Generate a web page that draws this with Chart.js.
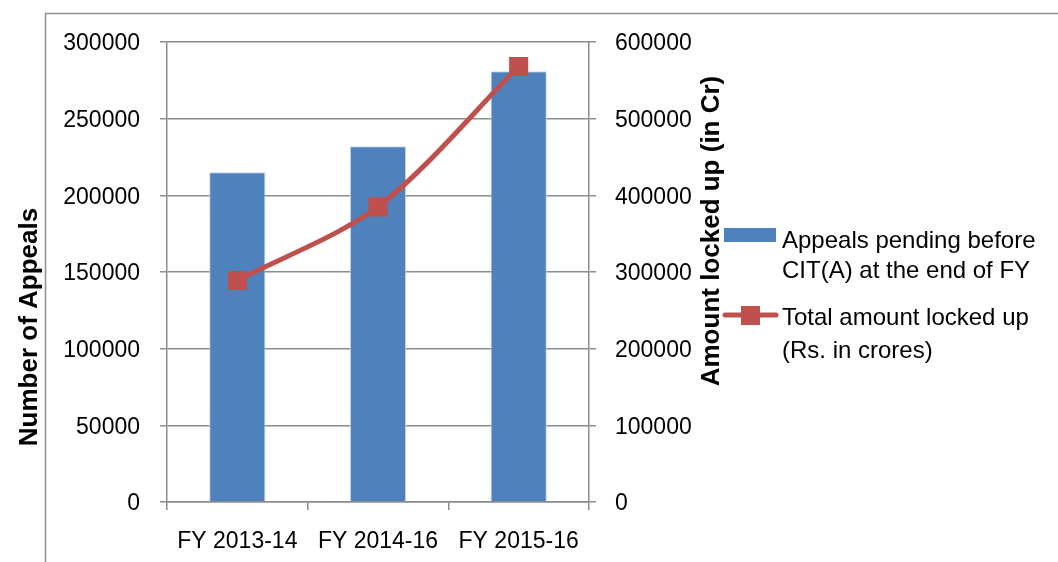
<!DOCTYPE html>
<html>
<head>
<meta charset="utf-8">
<script src="https://cdn.jsdelivr.net/npm/chart.js@4/dist/chart.umd.min.js"></script>
<style>
  html, body { margin: 0; padding: 0; background: #ffffff; }
  #wrap { position: relative; width: 1058px; height: 562px; }
</style>
</head>
<body>
<div id="wrap"><canvas id="c" width="1058" height="562"></canvas></div>
<script>
// ---- data ----
const categories = ["FY 2013-14", "FY 2014-16", "FY 2015-16"];
const appealsPending = [215000, 232000, 281000];
const amountLockedUp = [289000, 385000, 568000];
const leftTicks = [0, 50000, 100000, 150000, 200000, 250000, 300000];
const rightTicks = [0, 100000, 200000, 300000, 400000, 500000, 600000];
const leftTitle = "Number of Appeals";
const rightTitle = "Amount locked up (in Cr)";
const barLegendLines = ["Appeals pending before", "CIT(A) at the end of FY"];
const lineLegendLines = ["Total amount locked up", "(Rs. in crores)"];

const BLUE = "#4F81BD";
const RED = "#C0504D";
const GRID = "#8c8c8c";
const FONT = "'Liberation Sans', Arial, sans-serif";

const overlay = {
  id: "overlay",
  afterDraw(chart) {
    const ctx = chart.ctx;
    ctx.save();
    // outer frame
    ctx.strokeStyle = "#8f8f8f";
    ctx.lineWidth = 1.5;
    ctx.beginPath();
    ctx.moveTo(45.5, 562);
    ctx.lineTo(45.5, 13.5);
    ctx.lineTo(1058, 13.5);
    ctx.stroke();

    // axis titles
    ctx.fillStyle = "#000";
    ctx.font = "bold 26px " + FONT;
    ctx.textAlign = "center";
    ctx.textBaseline = "middle";
    ctx.save();
    ctx.translate(30, 327);
    ctx.rotate(-Math.PI / 2);
    ctx.fillText(leftTitle, 0, 0);
    ctx.restore();
    ctx.save();
    ctx.translate(712, 231);
    ctx.rotate(-Math.PI / 2);
    ctx.fillText(rightTitle, 0, 0);
    ctx.restore();

    // legend
    ctx.fillStyle = BLUE;
    ctx.fillRect(724, 228, 52, 14);
    ctx.strokeStyle = RED;
    ctx.lineWidth = 5;
    ctx.lineCap = "round";
    ctx.beginPath();
    ctx.moveTo(725, 315);
    ctx.lineTo(776, 315);
    ctx.stroke();
    ctx.fillStyle = RED;
    ctx.fillRect(741, 306, 19, 19);

    ctx.fillStyle = "#000";
    ctx.font = "24px " + FONT;
    ctx.textAlign = "left";
    ctx.textBaseline = "middle";
    barLegendLines.forEach((t, i) => ctx.fillText(t, 782, 241 + i * 30));
    lineLegendLines.forEach((t, i) => ctx.fillText(t, 782, 318 + i * 33));
    ctx.restore();
  }
};

const plainNum = v => String(v);

new Chart(document.getElementById("c"), {
  data: {
    labels: categories,
    datasets: [
      {
        type: "line",
        label: lineLegendLines.join(" "),
        data: amountLockedUp,
        yAxisID: "y1",
        borderColor: RED,
        backgroundColor: RED,
        borderWidth: 5,
        tension: 0.3,
        pointStyle: "rect",
        pointRadius: 13.5,
        pointBackgroundColor: RED,
        pointBorderColor: RED,
        pointBorderWidth: 0,
        order: 0
      },
      {
        type: "bar",
        label: barLegendLines.join(" "),
        data: appealsPending,
        yAxisID: "y",
        backgroundColor: BLUE,
        borderColor: "#c9d6ea",
        borderWidth: 1,
        barPercentage: 0.4,
        categoryPercentage: 1.0,
        order: 1
      }
    ]
  },
  options: {
    responsive: false,
    animation: false,
    layout: { padding: { top: 42, left: 0, right: 0, bottom: 0 } },
    plugins: { legend: { display: false }, tooltip: { enabled: false } },
    scales: {
      x: {
        afterFit(s) { s.height = 60; },
        grid: { display: true, drawOnChartArea: false, offset: true, color: GRID, lineWidth: 1.5, tickLength: 8 },
        border: { display: true, color: GRID, width: 1.5 },
        ticks: { color: "#000", font: { family: FONT, size: 23 }, padding: 18 }
      },
      y: {
        position: "left",
        min: 0, max: 300000,
        afterFit(s) { s.width = 167; },
        afterBuildTicks(s) { s.ticks = leftTicks.map(v => ({ value: v })); },
        grid: { color: GRID, lineWidth: 1.5, tickLength: 7 },
        border: { display: true, color: GRID, width: 1.5 },
        ticks: { color: "#000", font: { family: FONT, size: 23 }, padding: 20, labelOffset: 2, callback: plainNum }
      },
      y1: {
        position: "right",
        min: 0, max: 600000,
        afterFit(s) { s.width = 469; },
        afterBuildTicks(s) { s.ticks = rightTicks.map(v => ({ value: v })); },
        grid: { drawOnChartArea: false, color: GRID, lineWidth: 1.5, tickLength: 7 },
        border: { display: true, color: GRID, width: 1.5 },
        ticks: { color: "#000", font: { family: FONT, size: 23 }, padding: 19, labelOffset: 2, callback: plainNum }
      }
    }
  },
  plugins: [overlay]
});
</script>
</body>
</html>
